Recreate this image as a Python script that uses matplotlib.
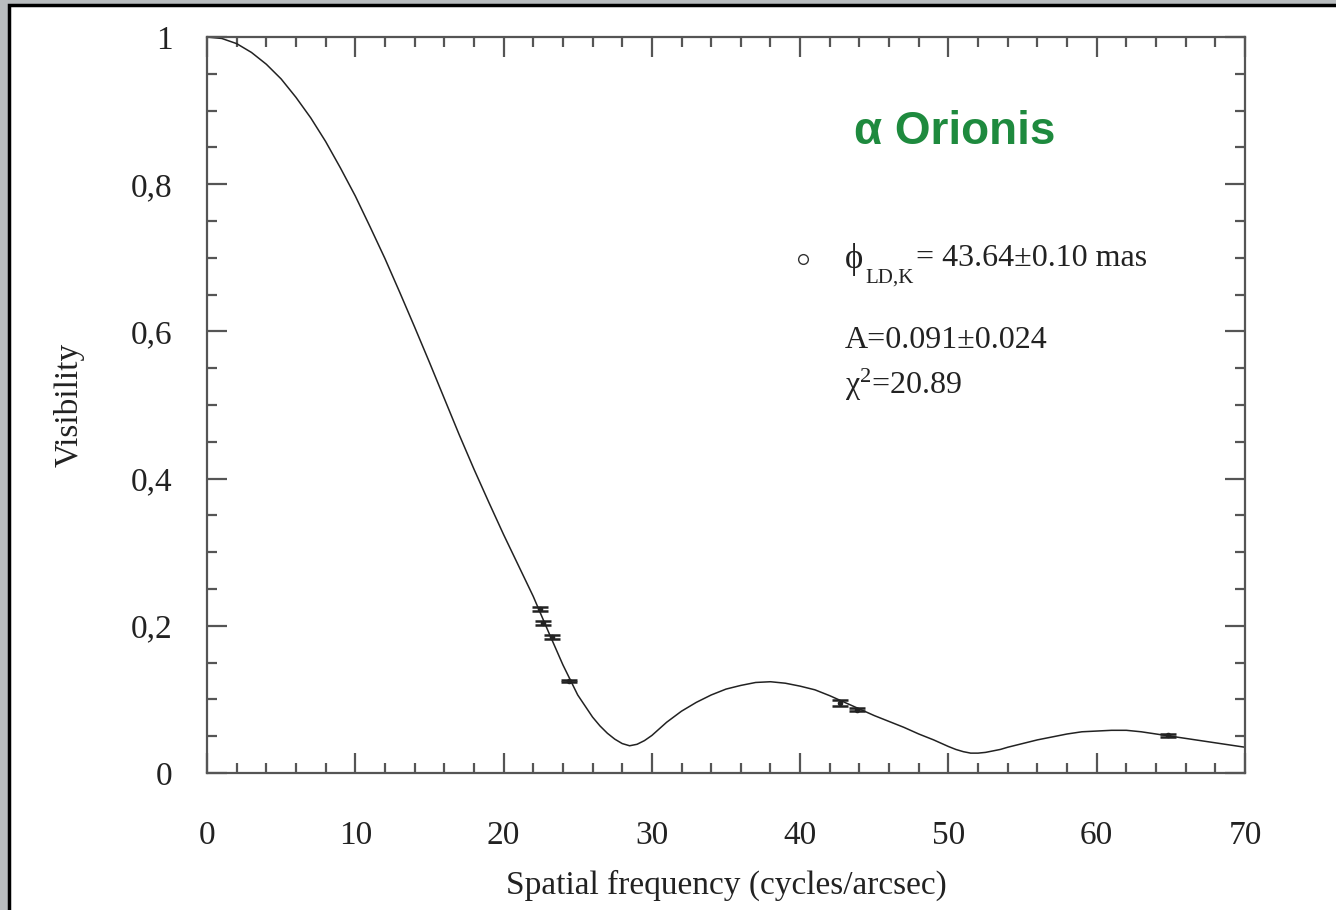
import matplotlib
matplotlib.use("Agg")
import matplotlib.pyplot as plt
from matplotlib.patches import Rectangle
from matplotlib.ticker import MultipleLocator, FuncFormatter

plt.rcParams["mathtext.fontset"] = "custom"
plt.rcParams["mathtext.rm"] = "Liberation Serif"
plt.rcParams["mathtext.it"] = "Liberation Serif:italic"

# model curve
freq = [0, 1, 2, 3, 4, 5, 6, 7, 8, 9, 10, 11, 12, 13, 14, 15, 16, 17, 18, 19,
        20, 21, 22, 23, 24, 25, 26, 26.5, 27, 27.5, 28, 28.5, 29, 29.5, 30,
        30.5, 31, 32, 33, 34, 35, 36, 37, 38, 39, 40, 41, 42, 43, 44, 45, 46,
        47, 48, 49, 50, 50.5, 51, 51.5, 52, 52.5, 53, 53.5, 54, 55, 56, 57,
        58, 59, 60, 61, 62, 63, 64, 65, 66, 67, 68, 69, 70]
vis = [1.0, 0.998, 0.991, 0.979, 0.963, 0.943, 0.918, 0.890, 0.858, 0.822,
       0.784, 0.742, 0.699, 0.653, 0.606, 0.558, 0.509, 0.460, 0.413, 0.368,
       0.324, 0.282, 0.240, 0.193, 0.147, 0.106, 0.076, 0.064, 0.054, 0.046,
       0.040, 0.037, 0.039, 0.044, 0.051, 0.060, 0.069, 0.084, 0.096, 0.106,
       0.114, 0.119, 0.123, 0.124, 0.122, 0.118, 0.113, 0.105, 0.096, 0.087,
       0.078, 0.070, 0.062, 0.053, 0.045, 0.036, 0.032, 0.029, 0.027, 0.027,
       0.028, 0.030, 0.032, 0.035, 0.040, 0.045, 0.049, 0.053, 0.056, 0.057,
       0.058, 0.058, 0.056, 0.053, 0.050, 0.047, 0.044, 0.041, 0.038, 0.035]

# measured points
obs_f = [22.45, 22.66, 23.26, 24.41, 42.68, 43.81, 64.8]
obs_v = [0.223, 0.204, 0.185, 0.125, 0.095, 0.086, 0.051]
obs_err = [0.003, 0.003, 0.003, 0.002, 0.004, 0.002, 0.002]

W, H = 1336, 910
fig = plt.figure(figsize=(W / 100, H / 100), dpi=100)
fig.patch.set_facecolor("#b9bdbf")
fig.patches.append(Rectangle((9 / W, -0.01), 1, 1.01 - 5 / H, transform=fig.transFigure,
                             facecolor="white", edgecolor="black", lw=2.5, zorder=-10))

ax = fig.add_axes([207 / W, 1 - 773 / H, (1245 - 207) / W, (773 - 37) / H])
ax.set_facecolor("white")

ax.plot(freq, vis, color="#222222", lw=1.1)
ax.errorbar(obs_f, obs_v, yerr=obs_err, fmt="o", ms=3, color="#222222",
            ecolor="#222222", elinewidth=1.2, capsize=5.5, capthick=1.8)

ax.set_xlim(0, 70)
ax.set_ylim(0, 1)

serif = "Liberation Serif"
grey = "#555555"
ink = "#222222"
for s in ax.spines.values():
    s.set_color(grey)
    s.set_linewidth(1.6)


def ylab(v, pos):
    if abs(v) < 1e-6:
        return "0"
    if abs(v - 1) < 1e-6:
        return "1"
    return ("%.1f" % v).replace(".", ",")


ax.xaxis.set_major_locator(MultipleLocator(10))
ax.xaxis.set_minor_locator(MultipleLocator(2))
ax.yaxis.set_major_locator(MultipleLocator(0.2))
ax.yaxis.set_minor_locator(MultipleLocator(0.05))
ax.yaxis.set_major_formatter(FuncFormatter(ylab))
ax.tick_params(which="both", direction="in", top=True, right=True,
               color=grey, width=1.6, labelsize=24)
ax.tick_params(which="major", length=14.5)
ax.tick_params(which="minor", length=7.5)
ax.tick_params(axis="x", pad=34)
ax.tick_params(axis="y", pad=25)
for lab in ax.get_xticklabels() + ax.get_yticklabels():
    lab.set_fontfamily(serif)
    lab.set_color(ink)

ax.set_xlabel("Spatial frequency (cycles/arcsec)", fontsize=24, family=serif,
              color=ink, labelpad=14)
ax.set_ylabel("Visibility", fontsize=24, family=serif, color=ink, labelpad=33)

ax.text(955 / W, 1 - 132 / H, "α Orionis", transform=fig.transFigure, ha="center",
        va="center", fontsize=33, fontweight="bold", color="#1e8a3e",
        family="Liberation Sans")

# legend-like annotation
ax.plot([803 / W], [1 - 259 / H], "o", ms=7, mfc="white", mec="#333333", mew=1,
        transform=fig.transFigure, clip_on=False)
ax.text(845 / W, 1 - 259 / H, "ϕ", transform=fig.transFigure, ha="left",
        va="center", fontsize=25, family=serif, color=ink)
ax.text(865 / W, 1 - 283 / H, "LD,K", transform=fig.transFigure, ha="left",
        va="baseline", fontsize=15, family=serif, color=ink)
ax.text(916 / W, 1 - 259 / H, "= 43.64±0.10 mas", transform=fig.transFigure,
        ha="left", va="center", fontsize=23, family=serif, color=ink)
ax.text(845 / W, 1 - 340 / H, "A=0.091±0.024", transform=fig.transFigure,
        ha="left", va="center", fontsize=23, family=serif, color=ink)
ax.text(845 / W, 1 - 385 / H, r"$\mathrm{χ}^{2}$=20.89", transform=fig.transFigure,
        ha="left", va="center", fontsize=23, family=serif, color=ink)

fig.savefig("out.png", dpi=100, facecolor=fig.get_facecolor())
